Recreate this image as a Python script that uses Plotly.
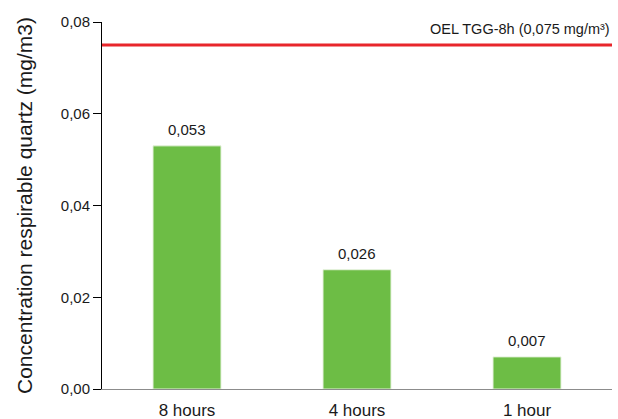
import plotly.graph_objects as go

categories = ["8 hours", "4 hours", "1 hour"]
values = [0.053, 0.026, 0.007]
value_labels = ["0,053", "0,026", "0,007"]
oel_limit = 0.075
oel_label = "OEL TGG-8h (0,075 mg/m³)"
y_ticks = [0, 0.02, 0.04, 0.06, 0.08]
y_tick_text = ["0,00", "0,02", "0,04", "0,06", "0,08"]

FONT = "Liberation Sans, Arial, sans-serif"
TEXT = "#1a1a1a"

fig = go.Figure()
fig.add_trace(go.Bar(
    x=categories, y=values, width=0.4,
    marker=dict(color="#6dbd45", line=dict(color="#e6f2dd", width=1)),
    showlegend=False, hoverinfo="x+y",
))

# value labels above each bar
for cat, val, lab in zip(categories, values, value_labels):
    fig.add_annotation(x=cat, y=val, text=lab, showarrow=False,
                       xanchor="center", yanchor="bottom", yshift=6,
                       font=dict(family=FONT, size=15, color=TEXT))

# occupational exposure limit line
fig.add_shape(type="line", xref="paper", yref="y", x0=0, x1=1,
              y0=oel_limit, y1=oel_limit,
              line=dict(color="#e8262b", width=3))
fig.add_annotation(xref="paper", yref="y", x=1, y=oel_limit,
                   text=oel_label, showarrow=False,
                   xanchor="right", yanchor="bottom", yshift=6,
                   font=dict(family=FONT, size=14.5, color=TEXT))

fig.update_layout(
    width=618, height=419,
    margin=dict(l=102, r=6, t=22, b=30, autoexpand=False),
    plot_bgcolor="white", paper_bgcolor="white",
    font=dict(family=FONT, color=TEXT),
    xaxis=dict(range=[-0.5, 2.5], showline=True, linecolor="#8c8c8c",
               linewidth=1, ticks="", showgrid=False,
               ticklabelstandoff=6,
               tickfont=dict(size=17, color=TEXT)),
    yaxis=dict(range=[0, 0.08], tickvals=y_ticks, ticktext=y_tick_text,
               showline=True, linecolor="black", linewidth=1,
               ticks="outside", ticklen=8, tickcolor="black",
               showgrid=False, zeroline=False,
               tickfont=dict(size=15, color=TEXT),
               title=dict(text="Concentration respirable quartz (mg/m3)",
                          font=dict(size=21, color=TEXT), standoff=22)),
)

fig.write_html("out.html")
